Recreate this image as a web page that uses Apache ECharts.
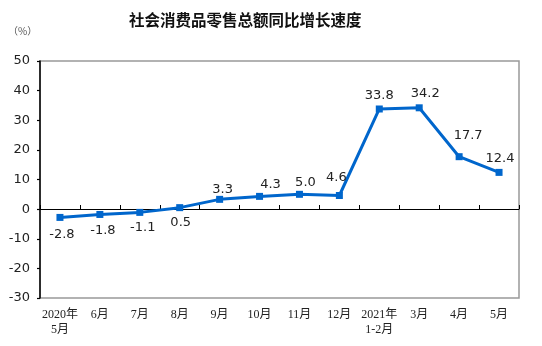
<!DOCTYPE html>
<html>
<head>
<meta charset="utf-8">
<script src="https://cdn.jsdelivr.net/npm/echarts@6/dist/echarts.min.js"></script>
<style>html,body{margin:0;padding:0;background:#fff;}#c{width:542px;height:346px;}</style>
</head>
<body>
<div id="c"></div>
<script>
var categories = ['2020年\n5月','6月','7月','8月','9月','10月','11月','12月','2021年\n1-2月','3月','4月','5月'];
var growth = [-2.8, -1.8, -1.1, 0.5, 3.3, 4.3, 5.0, 4.6, 33.8, 34.2, 17.7, 12.4];
var yTicks = {min: -30, max: 50, interval: 10};

// label placement (style only): side and [dx, dy] nudges
var labelSide = ['bottom','bottom','bottom','bottom','top','top','top','top','top','top','top','top'];
var labelNudge = [[2,2],[3,1],[3,0],[1,0],[3,2],[11,0],[6,0],[-3,-6],[0,-1],[6,-2],[9,-9],[1,-2]];

var chart = echarts.init(document.getElementById('c'), null, {renderer: 'canvas'});
var seriesData = growth.map(function (v, i) {
  return {value: v, label: {position: labelSide[i], offset: labelNudge[i],
    distance: labelSide[i] === 'top' ? 2 : 5}};
});
chart.setOption({
  animation: false,
  title: {
    text: '社会消费品零售总额同比增长速度',
    left: 124, top: 7,
    textStyle: {fontFamily: 'Noto Sans CJK SC', fontSize: 15.5, fontWeight: 'bold', color: '#111'}
  },
  graphic: [{
    type: 'text', left: 8, top: 26,
    style: {text: '（%）', font: '10px "Noto Sans CJK SC"', fill: '#555'}
  }],
  grid: {left: 40, right: 23, top: 61, bottom: 48, show: true, borderColor: '#999', borderWidth: 1.5,
    containLabel: false, outerBoundsMode: 'none'},
  xAxis: [{
    type: 'category', data: categories, position: 'bottom',
    axisLine: {show: false, onZero: false},
    axisTick: {show: false},
    axisLabel: {margin: 9, fontSize: 12, lineHeight: 15, color: '#222', fontFamily: '"Liberation Serif", "Noto Sans CJK SC", serif', interval: 0}
  }, {
    // category boundaries on the zero line
    type: 'value', min: 0, max: categories.length, interval: 1, position: 'top', offset: -148,
    axisLine: {show: true, onZero: false, lineStyle: {color: '#000', width: 1}},
    axisTick: {show: true, inside: false, length: 4, lineStyle: {color: '#000', width: 1}},
    axisLabel: {show: false},
    splitLine: {show: false}
  }],
  yAxis: {
    type: 'value', min: yTicks.min, max: yTicks.max, interval: yTicks.interval,
    axisLine: {show: true, lineStyle: {color: '#000', width: 1.5}},
    axisTick: {show: true, length: 3, lineStyle: {color: '#000', width: 1.2}},
    splitLine: {show: false},
    axisLabel: {fontSize: 13, color: '#222', margin: 10, fontFamily: '"DejaVu Sans", sans-serif'}
  },
  series: [{
    type: 'line', data: seriesData, xAxisIndex: 0,
    symbol: 'rect', symbolSize: 7,
    lineStyle: {color: '#0066cc', width: 3},
    itemStyle: {color: '#0066cc'},
    label: {show: true, fontSize: 13, color: '#222', fontFamily: '"DejaVu Sans", sans-serif',
      formatter: function (p) { return p.value.toFixed(1); }}
  }]
});
</script>
</body>
</html>
